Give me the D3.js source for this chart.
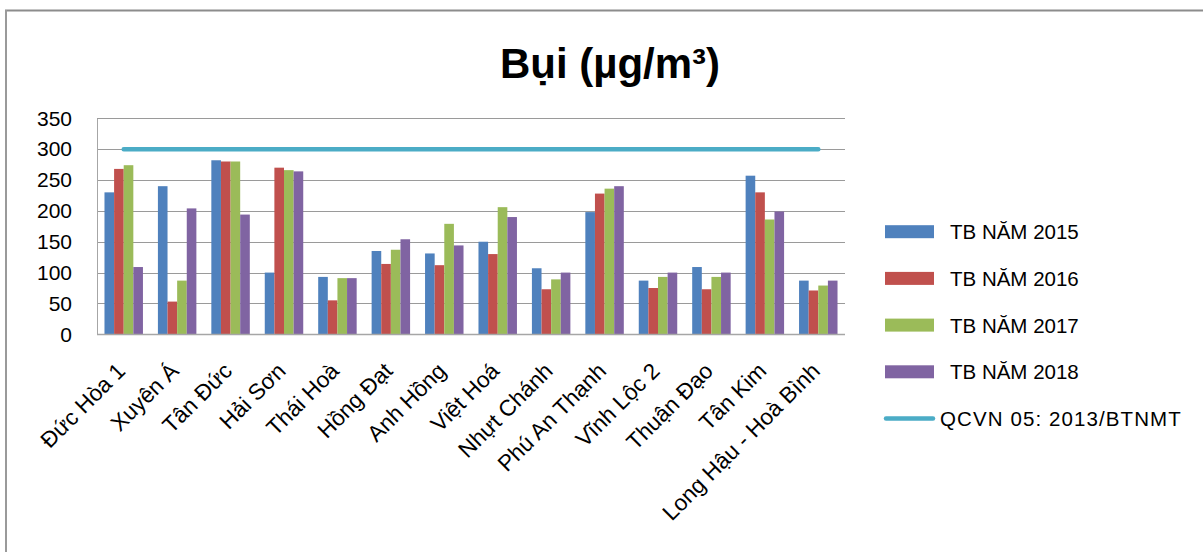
<!DOCTYPE html>
<html>
<head>
<meta charset="utf-8">
<script src="https://cdn.jsdelivr.net/npm/d3@7"></script>
<style>
  html, body { margin: 0; padding: 0; background: #fff; }
  svg { display: block; font-family: "Liberation Sans", Arial, sans-serif; }
</style>
</head>
<body>
<svg id="chart" width="1203" height="552"></svg>
<script>
// Monitoring stations
const stations = ["Đức Hòa 1", "Xuyên Á", "Tân Đức", "Hải Sơn", "Thái Hoà", "Hồng Đạt",
  "Anh Hồng", "Việt Hoá", "Nhựt Chánh", "Phú An Thạnh", "Vĩnh Lộc 2", "Thuận Đạo",
  "Tân Kim", "Long Hậu - Hoà Bình"];

// Yearly average dust concentration (µg/m³) per station
const tb2015 = [230, 240, 282, 100, 93, 135, 131, 150, 107, 198, 87, 109, 257, 87];
const tb2016 = [268, 53, 280, 270, 55, 114, 112, 130, 73, 228, 75, 73, 230, 71];
const tb2017 = [274, 87, 280, 266, 91, 137, 179, 206, 89, 236, 93, 93, 186, 79];
const tb2018 = [109, 204, 194, 264, 91, 154, 144, 190, 100, 240, 100, 100, 199, 87];

// National standard limit
const qcvnLimit = 300;

const seriesNames = ["TB NĂM 2015", "TB NĂM 2016", "TB NĂM 2017", "TB NĂM 2018"];
const seriesValues = [tb2015, tb2016, tb2017, tb2018];
const seriesColors = ["#4f81bd", "#c0504d", "#9bbb59", "#8064a2"];
const limitName = "QCVN 05: 2013/BTNMT";
const limitColor = "#4bacc6";

const yTicks = [0, 50, 100, 150, 200, 250, 300, 350];
const titleText = "Bụi (µg/m³)";

const svg = d3.select("#chart");

// Outer frame (top and left edges)
svg.append("line").attr("x1", 5).attr("x2", 1203).attr("y1", 10.5).attr("y2", 10.5)
  .attr("stroke", "#8c8c8c").attr("stroke-width", 2);
svg.append("line").attr("x1", 6).attr("x2", 6).attr("y1", 10).attr("y2", 552)
  .attr("stroke", "#9a9a9a").attr("stroke-width", 2);

// Title
svg.append("text")
  .attr("x", 610).attr("y", 78)
  .attr("text-anchor", "middle")
  .attr("font-size", 42).attr("font-weight", "bold")
  .attr("fill", "#000")
  .text(titleText);

const plot = { left: 97, right: 845, top: 118.3, bottom: 334.3 };

const x = d3.scaleBand()
  .domain(stations)
  .range([plot.left, plot.right])
  .paddingInner(0.28)
  .paddingOuter(0.14);

const xs = d3.scaleBand()
  .domain(d3.range(seriesNames.length))
  .range([0, x.bandwidth()]);

const y = d3.scaleLinear().domain([0, 350]).range([plot.bottom, plot.top]);

// Horizontal gridlines
svg.append("g")
  .selectAll("line")
  .data(yTicks.filter(t => t > 0))
  .join("line")
  .attr("x1", plot.left).attr("x2", plot.right)
  .attr("y1", d => Math.round(y(d)) + 0.5).attr("y2", d => Math.round(y(d)) + 0.5)
  .attr("stroke", "#9a9a9a").attr("stroke-width", 1);

// Y axis
const yAxis = svg.append("g")
  .attr("transform", `translate(${plot.left},0)`)
  .call(d3.axisLeft(y).tickValues(yTicks).tickSize(0).tickPadding(25));
yAxis.select(".domain").attr("stroke", "#a6a6a6");
yAxis.selectAll("text")
  .attr("font-size", 21)
  .attr("fill", "#000")
  .attr("font-family", "'Liberation Sans', Arial, sans-serif");

// Bars
const groups = svg.append("g")
  .selectAll("g")
  .data(stations)
  .join("g")
  .attr("transform", d => `translate(${x(d)},0)`);

groups.selectAll("rect")
  .data((d, i) => seriesValues.map((vals, s) => ({ s, v: vals[i] })))
  .join("rect")
  .attr("x", d => xs(d.s))
  .attr("width", xs.bandwidth())
  .attr("y", d => y(d.v))
  .attr("height", d => y(0) - y(d.v))
  .attr("fill", d => seriesColors[d.s]);

// X axis baseline
svg.append("line")
  .attr("x1", plot.left).attr("x2", plot.right)
  .attr("y1", Math.round(y(0)) + 0.5).attr("y2", Math.round(y(0)) + 0.5)
  .attr("stroke", "#a6a6a6").attr("stroke-width", 1.5);

// Limit line across station centres
const limitLine = d3.line()
  .x(d => x(d) + x.bandwidth() / 2)
  .y(() => y(qcvnLimit));
svg.append("path")
  .datum([stations[0], stations[stations.length - 1]])
  .attr("d", limitLine)
  .attr("fill", "none")
  .attr("stroke", limitColor)
  .attr("stroke-width", 4.5)
  .attr("stroke-linecap", "round");

// Rotated station labels
svg.append("g")
  .selectAll("text")
  .data(stations)
  .join("text")
  .attr("text-anchor", "end")
  .attr("font-size", 22.5)
  .attr("fill", "#000")
  .attr("transform", d => `translate(${x(d) + x.bandwidth() / 2 + 3},${plot.bottom + 38}) rotate(-45)`)
  .text(d => d);

// Legend
const legend = svg.append("g");
const legendTop = 231.7, legendStep = 46.7;
seriesNames.forEach((name, i) => {
  const cy = legendTop + i * legendStep;
  legend.append("rect")
    .attr("x", 885).attr("y", cy - 6.5)
    .attr("width", 49).attr("height", 13)
    .attr("fill", seriesColors[i]);
  legend.append("text")
    .attr("x", 950).attr("y", cy + 7.5)
    .attr("font-size", 20.5).attr("fill", "#000")
    .text(name);
});
const ly = legendTop + seriesNames.length * legendStep;
legend.append("line")
  .attr("x1", 886).attr("x2", 933).attr("y1", ly).attr("y2", ly)
  .attr("stroke", limitColor).attr("stroke-width", 4.5).attr("stroke-linecap", "round");
legend.append("text")
  .attr("x", 940).attr("y", ly + 7.5)
  .attr("font-size", 20.5).attr("letter-spacing", 1.1).attr("fill", "#000")
  .text(limitName);
</script>
</body>
</html>
